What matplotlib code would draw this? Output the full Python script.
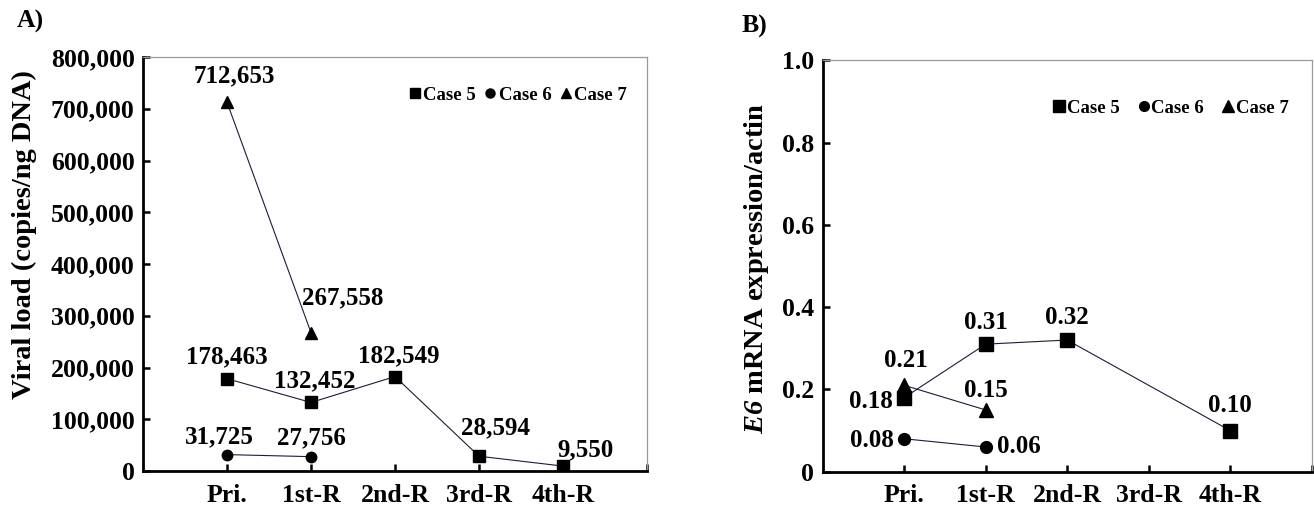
import numpy as np
import matplotlib
matplotlib.use("Agg")
import matplotlib.pyplot as plt
from matplotlib.lines import Line2D
from matplotlib.ticker import FuncFormatter

plt.rcParams['font.family'] = ['Liberation Serif', 'DejaVu Serif']
plt.rcParams['font.weight'] = 'bold'
plt.rcParams['mathtext.fontset'] = 'custom'
plt.rcParams['mathtext.rm'] = 'Liberation Serif:bold'
plt.rcParams['mathtext.it'] = 'Liberation Serif:italic:bold'
plt.rcParams['mathtext.bf'] = 'Liberation Serif:bold'
plt.rcParams['mathtext.bfit'] = 'Liberation Serif:italic:bold'

# data
stages = ['Pri.', '1st-R', '2nd-R', '3rd-R', '4th-R']

# A) viral load (copies/ng DNA)
load_case5 = [178463, 132452, 182549, 28594, 9550]
load_case6 = [31725, 27756]
load_case7 = [712653, 267558]

# B) E6 mRNA expression / actin  (case 5 has no 3rd-R value)
e6_case5_stage = ['Pri.', '1st-R', '2nd-R', '4th-R']
e6_case5 = [0.18, 0.31, 0.32, 0.10]
e6_case6 = [0.08, 0.06]
e6_case7 = [0.21, 0.15]

line_col = '#1c1c3a'
px = 0.72  # pixel -> point at 100 dpi


def pos(names):
    return [stages.index(n) + 1 for n in names]


def style_axes(ax):
    ax.set_xlim(0, 6)
    ax.set_xticks(range(1, 7))
    ax.set_xticklabels(stages + [''], fontsize=18.5, fontweight='bold')
    for s in ['left', 'bottom']:
        ax.spines[s].set_linewidth(2.0)
        ax.spines[s].set_color('black')
    for s in ['top', 'right']:
        ax.spines[s].set_linewidth(0.9)
        ax.spines[s].set_color('#9a9a9a')
    ax.tick_params(axis='both', direction='in', length=5, width=1.8,
                   top=False, right=False, labelsize=18.5)
    ax.tick_params(axis='x', pad=9)
    ax.tick_params(axis='y', pad=6)


def label(ax, x, y, txt, dx, dy, ha='center'):
    ax.annotate(txt, (x, y), xytext=(dx * px, dy * px), textcoords='offset points',
                ha=ha, va='center', fontsize=18, fontweight='bold')


fig = plt.figure(figsize=(13.14, 5.08), dpi=100)

# ---------------- panel A ----------------
axA = fig.add_axes([0.1088, 0.0728, 0.3836, 0.8150])
n5 = len(load_case5)
axA.plot(range(1, n5 + 1), load_case5, '-', color=line_col, lw=0.8,
         marker='s', ms=8.5, mfc='black', mec='black')
axA.plot(range(1, len(load_case6) + 1), load_case6, '-', color=line_col, lw=0.8,
         marker='o', ms=7.5, mfc='black', mec='black')
axA.plot(range(1, len(load_case7) + 1), load_case7, '-', color=line_col, lw=0.8,
         marker='^', ms=8.5, mfc='black', mec='black')
axA.set_ylim(0, 800000)
axA.set_yticks(np.arange(0, 800001, 100000))
axA.yaxis.set_major_formatter(FuncFormatter(lambda v, p: '{:,.0f}'.format(v)))
style_axes(axA)
axA.set_ylabel('Viral load (copies/ng DNA)', fontsize=20.5, fontweight='bold')
axA.yaxis.set_label_coords(-0.21, 0.570)

offA5 = [(0, 22), (4, 22), (4, 21), (17, 28), (22, 16)]
offA6 = [(-8, 18), (0, 19)]
offA7 = [(7, 26), (32, 35)]
for i, v in enumerate(load_case5):
    label(axA, i + 1, v, '{:,}'.format(v), *offA5[i])
for i, v in enumerate(load_case6):
    label(axA, i + 1, v, '{:,}'.format(v), *offA6[i])
for i, v in enumerate(load_case7):
    label(axA, i + 1, v, '{:,}'.format(v), *offA7[i])

hA = [Line2D([], [], ls='none', marker='s', ms=7.5, color='black'),
      Line2D([], [], ls='none', marker='o', ms=6.5, color='black'),
      Line2D([], [], ls='none', marker='^', ms=7, color='black')]
axA.legend(hA, ['Case 5', 'Case 6', 'Case 7'], ncol=3, frameon=False,
           loc='center right', bbox_to_anchor=(0.96, 0.908),
           handlelength=0.6, handletextpad=0.15, columnspacing=0.45,
           borderpad=0, borderaxespad=0,
           prop={'family': 'Liberation Serif', 'weight': 'bold', 'size': 13.5})
fig.text(17 / 1314, 1 - 21 / 508, 'A)', fontsize=18.5, fontweight='bold',
         ha='left', va='center')

# ---------------- panel B ----------------
axB = fig.add_axes([0.6261, 0.0715, 0.3721, 0.8098])
axB.plot(pos(e6_case5_stage), e6_case5, '-', color=line_col, lw=0.8,
         marker='s', ms=10, mfc='black', mec='black')
axB.plot(range(1, len(e6_case6) + 1), e6_case6, '-', color=line_col, lw=0.8,
         marker='o', ms=8.5, mfc='black', mec='black')
axB.plot(range(1, len(e6_case7) + 1), e6_case7, '-', color=line_col, lw=0.8,
         marker='^', ms=9.5, mfc='black', mec='black')
axB.set_ylim(0, 1.0)
axB.set_yticks(np.arange(0, 1.01, 0.2))
axB.yaxis.set_major_formatter(FuncFormatter(lambda v, p: '0' if v == 0 else '%.1f' % v))
style_axes(axB)
axB.set_ylabel(r'$\mathbfit{E6}$ mRNA expression/actin', fontsize=20.5,
               fontweight='bold')
axB.yaxis.set_label_coords(-0.106, 0.493)

offB5 = [(-11, -4, 'right'), (0, 22, 'center'), (0, 23, 'center'), (0, 25, 'center')]
offB6 = [(-10, -2, 'right'), (11, 0, 'left')]
offB7 = [(2, 25, 'center'), (0, 19, 'center')]
for x, v, o in zip(pos(e6_case5_stage), e6_case5, offB5):
    label(axB, x, v, '%.2f' % v, o[0], o[1], ha=o[2])
for i, v in enumerate(e6_case6):
    o = offB6[i]
    label(axB, i + 1, v, '%.2f' % v, o[0], o[1], ha=o[2])
for i, v in enumerate(e6_case7):
    o = offB7[i]
    label(axB, i + 1, v, '%.2f' % v, o[0], o[1], ha=o[2])

hB = [Line2D([], [], ls='none', marker='s', ms=9, color='black'),
      Line2D([], [], ls='none', marker='o', ms=7, color='black'),
      Line2D([], [], ls='none', marker='^', ms=8, color='black')]
axB.legend(hB, ['Case 5', 'Case 6', 'Case 7'], ncol=3, frameon=False,
           loc='center right', bbox_to_anchor=(0.953, 0.883),
           handlelength=0.6, handletextpad=0.1, columnspacing=1.0,
           borderpad=0, borderaxespad=0,
           prop={'family': 'Liberation Serif', 'weight': 'bold', 'size': 13.5})
fig.text(742 / 1314, 1 - 26 / 508, 'B)', fontsize=18.5, fontweight='bold',
         ha='left', va='center')

fig.savefig('out.png', dpi=100)
